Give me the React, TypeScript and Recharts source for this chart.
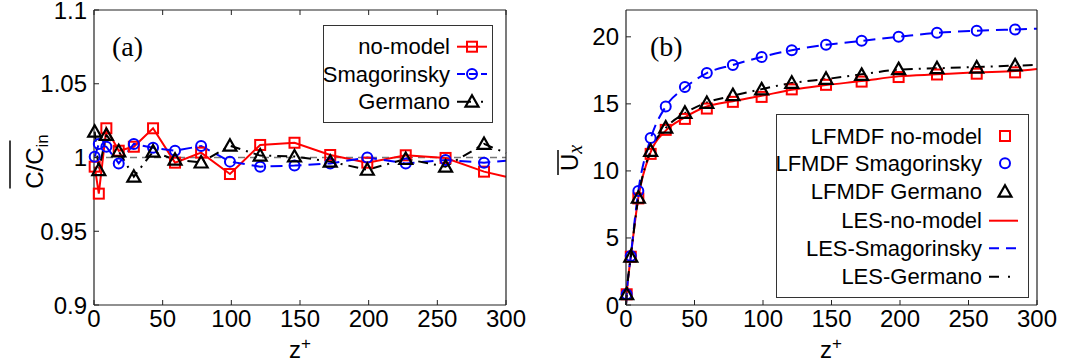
import React from "react";
import { LineChart, Line, XAxis, YAxis, ReferenceLine } from "recharts";

// z+ stations where the LFMDF samples were taken
const zGrid = [0.5, 3.5, 9, 18, 29, 43, 59, 78, 99, 121, 146, 172, 199, 227, 256, 284];
const zA = [...zGrid, 300];
const zLes = [0, ...zGrid, 300];

// panel (a): mean C/C_in
const concNoModel = [0.9938, 0.9755, 1.0198, 1.0046, 1.0073, 1.0198, 0.9965, 1.0033, 0.9888, 1.0085, 1.01, 1.0017, 0.9965, 1.0015, 0.9997, 0.9904, 0.987];
const concSmag = [1.0005, 1.0092, 1.0073, 0.996, 1.0092, 1.0066, 1.0046, 1.0078, 0.9972, 0.9938, 0.9945, 0.996, 1.0, 0.996, 0.9983, 0.9965, 0.9978];
const concGermano = [1.0175, 0.9915, 1.0153, 1.0042, 0.987, 1.004, 0.9985, 0.9966, 1.008, 1.0013, 1.0007, 0.9972, 0.9917, 0.999, 0.9938, 1.0092, 1.003];

// panel (b): mean U_x
const uLfmdfNoModel = [0.8, 3.6, 7.95, 11.27, 13.06, 13.88, 14.65, 15.15, 15.52, 16.08, 16.42, 16.66, 17.0, 17.19, 17.25, 17.35];
const uLfmdfSmag = [0.8, 3.65, 8.5, 12.45, 14.8, 16.25, 17.3, 17.9, 18.5, 19.0, 19.4, 19.7, 20.0, 20.3, 20.45, 20.55];
const uLfmdfGermano = [0.8, 3.6, 8.0, 11.5, 13.23, 14.33, 15.07, 15.65, 16.08, 16.57, 16.87, 17.16, 17.59, 17.66, 17.71, 17.87];
const uLesNoModel = [0, 0.8, 3.6, 8.0, 11.4, 13.0, 14.0, 14.8, 15.2, 15.6, 16.05, 16.4, 16.7, 17.05, 17.2, 17.35, 17.45, 17.6];
const uLesSmag = [0, 0.8, 3.65, 8.5, 12.4, 14.8, 16.2, 17.3, 17.9, 18.5, 19.0, 19.4, 19.7, 20.0, 20.3, 20.45, 20.55, 20.6];
const uLesGermano = [0, 0.8, 3.6, 8.0, 11.5, 13.2, 14.3, 15.1, 15.6, 16.1, 16.55, 16.85, 17.2, 17.55, 17.65, 17.75, 17.85, 17.9];

const xTicks = [0, 50, 100, 150, 200, 250, 300];
const yTicksA = [0.9, 0.95, 1, 1.05, 1.1];
const yTicksB = [0, 5, 10, 15, 20];

const legendA = ["no-model", "Smagorinsky", "Germano"];
const legendB = ["LFMDF no-model", "LFMDF Smagorinsky", "LFMDF Germano", "LES-no-model", "LES-Smagorinsky", "LES-Germano"];

const RED = "#ff0000";
const BLUE = "#0000ff";
const BLACK = "#000000";
const AX = "#222222";
const SANS = "'Liberation Sans', Arial, Helvetica, sans-serif";
const SERIF = "'Liberation Serif', 'Times New Roman', serif";
const DASH = "12 7";
const DASHDOT = "10 6 2 6";

const tableA = zA.map((z, i) => ({ z, noModel: concNoModel[i], smag: concSmag[i], germano: concGermano[i] }));
const lfmdfB = zGrid.map((z, i) => ({ z, noModel: uLfmdfNoModel[i], smag: uLfmdfSmag[i], germano: uLfmdfGermano[i] }));
const lesB = zLes.map((z, i) => ({ z, noModel: uLesNoModel[i], smag: uLesSmag[i], germano: uLesGermano[i] }));

type Kind = "square" | "circle" | "triangle";

function Marker({ kind, cx, cy, color }: { kind: Kind; cx: number; cy: number; color: string }) {
  if (kind === "square") return <rect x={cx - 5} y={cy - 5} width={10} height={10} fill="none" stroke={color} strokeWidth={2} />;
  if (kind === "circle") return <circle cx={cx} cy={cy} r={5} fill="none" stroke={color} strokeWidth={2} />;
  return <path d={`M${cx},${cy - 6.5}L${cx + 6.5},${cy + 5}L${cx - 6.5},${cy + 5}Z`} fill="none" stroke={color} strokeWidth={2.2} />;
}

// markers drawn at each sample; the z = 300 end point only carries the line
const dotFor = (kind: Kind, color: string) => (p: any) => {
  if (p.cx == null || p.cy == null || p.payload?.z >= 300) return <g key={`d${p.index}`} />;
  return (
    <g key={`d${p.index}`}>
      <Marker kind={kind} cx={p.cx} cy={p.cy} color={color} />
    </g>
  );
};

const tickStyle = { fill: "#000", fontSize: 24, fontFamily: SANS };
const fmt = (v: number) => String(parseFloat(v.toFixed(2)));
const blank = () => "";

type Row = { label: string; color: string; dash?: string; marker?: Kind; line: boolean; y: number };

function LegendBox({ left, top, width, height, textX, rows, lineX1, lineX2, markX }: {
  left: number; top: number; width: number; height: number; textX: number;
  rows: Row[]; lineX1: number; lineX2: number; markX: number;
}) {
  return (
    <svg style={{ position: "absolute", left, top, overflow: "visible" }} width={width} height={height}>
      <rect x={0.5} y={0.5} width={width - 1} height={height - 1} fill="#fff" stroke="#333" strokeWidth={1} />
      {rows.map((r) => (
        <g key={r.label}>
          <text x={textX} y={r.y} textAnchor="end" dominantBaseline="central" fontSize={22} fontFamily={SANS} fill="#000">
            {r.label}
          </text>
          {r.line && <line x1={lineX1} x2={lineX2} y1={r.y} y2={r.y} stroke={r.color} strokeWidth={2} strokeDasharray={r.dash} />}
          {r.marker && <Marker kind={r.marker} cx={markX} cy={r.y} color={r.color} />}
        </g>
      ))}
    </svg>
  );
}

function PanelA() {
  return (
    <div style={{ position: "absolute", left: 0, top: 0, width: 530, height: 364 }}>
      <LineChart width={530} height={364} data={tableA} margin={{ top: 9, right: 23, bottom: 29, left: 0 }}>
        <XAxis xAxisId="b" dataKey="z" type="number" domain={[0, 300]} ticks={xTicks} height={30} tickSize={-5} tickMargin={10}
          tick={tickStyle} axisLine={{ stroke: AX, strokeWidth: 1.2 }} tickLine={{ stroke: AX }} interval={0} />
        <XAxis xAxisId="t" orientation="top" dataKey="z" type="number" domain={[0, 300]} ticks={xTicks} height={1} tickSize={-5}
          tickFormatter={blank} axisLine={{ stroke: AX, strokeWidth: 1.2 }} tickLine={{ stroke: AX }} interval={0} />
        <YAxis yAxisId="l" type="number" domain={[0.9, 1.1]} ticks={yTicksA} width={94} tickSize={-5} tickMargin={12}
          tick={tickStyle} tickFormatter={fmt} axisLine={{ stroke: AX, strokeWidth: 1.2 }} tickLine={{ stroke: AX }} interval={0} />
        <YAxis yAxisId="r" orientation="right" type="number" domain={[0.9, 1.1]} ticks={yTicksA} width={1} tickSize={-5}
          tickFormatter={blank} axisLine={{ stroke: AX, strokeWidth: 1.2 }} tickLine={{ stroke: AX }} interval={0} />
        <ReferenceLine xAxisId="b" yAxisId="l" y={1} stroke="#777" strokeWidth={1.5} strokeDasharray="7 5" />
        <Line xAxisId="b" yAxisId="l" dataKey="noModel" type="linear" stroke={RED} strokeWidth={2} dot={dotFor("square", RED)} isAnimationActive={false} />
        <Line xAxisId="b" yAxisId="l" dataKey="smag" type="linear" stroke={BLUE} strokeWidth={2} strokeDasharray={DASH} dot={dotFor("circle", BLUE)} isAnimationActive={false} />
        <Line xAxisId="b" yAxisId="l" dataKey="germano" type="linear" stroke={BLACK} strokeWidth={2} strokeDasharray={DASHDOT} dot={dotFor("triangle", BLACK)} isAnimationActive={false} />
        <text x={112} y={56} fontSize={28} fontFamily={SERIF} fill="#000">(a)</text>
        <g transform="translate(43,161.5) rotate(-90)">
          <text x={0} y={0} textAnchor="middle" fontSize={24} fontFamily={SANS} fill="#000">
            C/C<tspan fontSize={17} dy={5}>in</tspan>
          </text>
          <line x1={-27} x2={21} y1={-33} y2={-33} stroke="#000" strokeWidth={1.5} />
        </g>
        <text x={300} y={358} textAnchor="middle" fontSize={24} fontFamily={SANS} fill="#000">
          z<tspan fontSize={17} dy={-9}>+</tspan>
        </text>
      </LineChart>
      <LegendBox left={323} top={25} width={170} height={98} textX={127} lineX1={134} lineX2={164} markX={149}
        rows={[
          { label: legendA[0], color: RED, marker: "square", line: true, y: 21.7 },
          { label: legendA[1], color: BLUE, marker: "circle", line: true, dash: "8 4", y: 49 },
          { label: legendA[2], color: BLACK, marker: "triangle", line: true, dash: "14 10 2 10", y: 76.7 },
        ]} />
    </div>
  );
}

function PanelB() {
  return (
    <div style={{ position: "absolute", left: 540, top: 0, width: 528, height: 364 }}>
      <LineChart width={528} height={364} margin={{ top: 9, right: 30, bottom: 29, left: 0 }}>
        <XAxis xAxisId="b" dataKey="z" type="number" domain={[0, 300]} ticks={xTicks} height={30} tickSize={-5} tickMargin={10}
          tick={tickStyle} axisLine={{ stroke: AX, strokeWidth: 1.2 }} tickLine={{ stroke: AX }} interval={0} allowDuplicatedCategory={false} />
        <XAxis xAxisId="t" orientation="top" dataKey="z" type="number" domain={[0, 300]} ticks={xTicks} height={1} tickSize={-5}
          tickFormatter={blank} axisLine={{ stroke: AX, strokeWidth: 1.2 }} tickLine={{ stroke: AX }} interval={0} allowDuplicatedCategory={false} />
        <YAxis yAxisId="l" type="number" domain={[0, 22]} ticks={yTicksB} width={86} tickSize={-5} tickMargin={12}
          tick={tickStyle} axisLine={{ stroke: AX, strokeWidth: 1.2 }} tickLine={{ stroke: AX }} interval={0} />
        <YAxis yAxisId="r" orientation="right" type="number" domain={[0, 22]} ticks={yTicksB} width={1} tickSize={-5}
          tickFormatter={blank} axisLine={{ stroke: AX, strokeWidth: 1.2 }} tickLine={{ stroke: AX }} interval={0} />
        <Line xAxisId="b" yAxisId="l" data={lesB} dataKey="noModel" type="monotone" stroke={RED} strokeWidth={2} dot={false} isAnimationActive={false} />
        <Line xAxisId="b" yAxisId="l" data={lesB} dataKey="smag" type="monotone" stroke={BLUE} strokeWidth={2} strokeDasharray={DASH} dot={false} isAnimationActive={false} />
        <Line xAxisId="b" yAxisId="l" data={lesB} dataKey="germano" type="monotone" stroke={BLACK} strokeWidth={2} strokeDasharray={DASHDOT} dot={false} isAnimationActive={false} />
        <Line xAxisId="b" yAxisId="l" data={lfmdfB} dataKey="noModel" stroke="none" dot={dotFor("square", RED)} isAnimationActive={false} />
        <Line xAxisId="b" yAxisId="l" data={lfmdfB} dataKey="smag" stroke="none" dot={dotFor("circle", BLUE)} isAnimationActive={false} />
        <Line xAxisId="b" yAxisId="l" data={lfmdfB} dataKey="germano" stroke="none" dot={dotFor("triangle", BLACK)} isAnimationActive={false} />
        <text x={110} y={56} fontSize={28} fontFamily={SERIF} fill="#000">(b)</text>
        <g transform="translate(38,158) rotate(-90)">
          <text x={0} y={0} textAnchor="middle" fontSize={24} fontFamily={SANS} fill="#000">
            U<tspan fontFamily={SERIF} fontStyle="italic" fontSize={20} dy={4}>x</tspan>
          </text>
          <line x1={-17} x2={8} y1={-20} y2={-20} stroke="#000" strokeWidth={1.5} />
        </g>
        <text x={291} y={358} textAnchor="middle" fontSize={24} fontFamily={SANS} fill="#000">
          z<tspan fontSize={17} dy={-9}>+</tspan>
        </text>
      </LineChart>
      <LegendBox left={236} top={114} width={253} height={184} textX={206} lineX1={213} lineX2={242} markX={229}
        rows={[
          { label: legendB[0], color: RED, marker: "square", line: false, y: 22 },
          { label: legendB[1], color: BLUE, marker: "circle", line: false, y: 49.3 },
          { label: legendB[2], color: BLACK, marker: "triangle", line: false, y: 77.7 },
          { label: legendB[3], color: RED, line: true, y: 106.7 },
          { label: legendB[4], color: BLUE, line: true, dash: "10 7", y: 134.3 },
          { label: legendB[5], color: BLACK, line: true, dash: "10 9 2 20", y: 162.7 },
        ]} />
    </div>
  );
}

export default function App() {
  return (
    <div style={{ position: "absolute", left: 0, top: 0, width: 1068, height: 364, background: "#fff" }}>
      <PanelA />
      <PanelB />
    </div>
  );
}
